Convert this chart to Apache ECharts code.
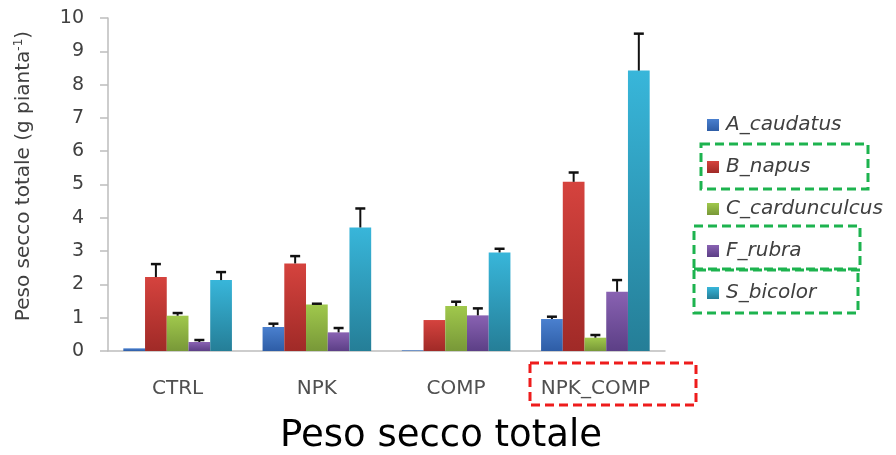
<!DOCTYPE html>
<html>
<head>
<meta charset="utf-8">
<script src="https://cdn.jsdelivr.net/npm/echarts@6/dist/echarts.min.js"></script>
<style>html,body{margin:0;padding:0;background:#fff;}#c{width:896px;height:455px;}</style>
</head>
<body>
<div id="c"></div>
<script>
var categories = ['CTRL', 'NPK', 'COMP', 'NPK_COMP'];
var speciesNames = ['A_caudatus', 'B_napus', 'C_cardunculcus', 'F_rubra', 'S_bicolor'];
var aCaudatus = [0.08, 0.72, 0.02, 0.96];
var bNapus = [2.22, 2.63, 0.93, 5.08];
var cCardunculus = [1.06, 1.40, 1.35, 0.40];
var fRubra = [0.27, 0.56, 1.07, 1.78];
var sBicolor = [2.13, 3.71, 2.96, 8.42];
var aErrTop = [null, 0.82, null, 1.03];
var bErrTop = [2.61, 2.85, null, 5.36];
var cErrTop = [1.14, 1.42, 1.48, 0.48];
var fErrTop = [0.33, 0.69, 1.28, 2.13];
var sErrTop = [2.37, 4.28, 3.07, 9.53];
var yTicks = [0, 1, 2, 3, 4, 5, 6, 7, 8, 9, 10];

var values = [aCaudatus, bNapus, cCardunculus, fRubra, sBicolor];
var errTops = [aErrTop, bErrTop, cErrTop, fErrTop, sErrTop];
var colorPairs = [
  ['#4a80cf', '#2e5da6'],
  ['#d5433e', '#a02a27'],
  ['#a0c84c', '#789838'],
  ['#8962b2', '#5c3f86'],
  ['#38b6da', '#257e97']
];

var chart = echarts.init(document.getElementById('c'));
var series = [];
values.forEach(function (vals, i) {
  series.push({
    name: speciesNames[i],
    type: 'bar',
    data: vals,
    barGap: '0%',
    barCategoryGap: '22%',
    itemStyle: {
      color: new echarts.graphic.LinearGradient(0, 0, 0, 1, [
        { offset: 0, color: colorPairs[i][0] },
        { offset: 1, color: colorPairs[i][1] }
      ])
    }
  });
});
values.forEach(function (vals, i) {
  var data = categories.map(function (c, j) { return [j, vals[j], errTops[i][j]]; });
  series.push({
    type: 'custom',
    z: 5,
    data: data,
    encode: { x: 0, y: [1, 2] },
    renderItem: function (params, api) {
      var top = api.value(2);
      if (top === null || top === undefined || isNaN(top)) return null;
      var layout = api.barLayout({ barGap: '0%', barCategoryGap: '22%', count: 5 });
      var c = api.value(0);
      var p0 = api.coord([c, api.value(1)]);
      var p1 = api.coord([c, top]);
      var x = p0[0] + layout[i].offsetCenter;
      var half = 5;
      return {
        type: 'group',
        children: [
          { type: 'line', shape: { x1: x, y1: p0[1], x2: x, y2: p1[1] }, style: { stroke: '#111', lineWidth: 2 } },
          { type: 'line', shape: { x1: x - half, y1: p1[1], x2: x + half, y2: p1[1] }, style: { stroke: '#111', lineWidth: 2.5 } }
        ]
      };
    }
  });
});

function dashedRect(x, y, w, h, color) {
  return {
    type: 'rect',
    shape: { x: x, y: y, width: w, height: h },
    style: { fill: 'none', stroke: color, lineWidth: 3, lineDash: [9, 5] },
    z: 100
  };
}

chart.setOption({
  backgroundColor: '#ffffff',
  animation: false,
  grid: { left: 108, right: 231, top: 18, bottom: 104 },
  legend: {
    orient: 'vertical',
    left: 707,
    top: 114,
    padding: 0,
    itemWidth: 12,
    itemHeight: 12,
    itemGap: 20,
    icon: 'rect',
    data: speciesNames,
    textStyle: { fontFamily: 'DejaVu Sans', fontStyle: 'italic', fontSize: 20, color: '#404040', lineHeight: 22, padding: [0, 0, 0, 2] }
  },
  xAxis: {
    type: 'category',
    data: categories,
    axisLine: { lineStyle: { color: '#bdbdbd', width: 1.5 } },
    axisTick: { length: 6, lineStyle: { color: '#bdbdbd', width: 1.5 } },
    axisLabel: { interval: 0, hideOverlap: false, fontFamily: 'DejaVu Sans', fontSize: 20, color: '#505050', margin: 28 }
  },
  yAxis: {
    type: 'value',
    min: 0,
    max: 10,
    interval: 1,
    splitLine: { show: false },
    axisLine: { show: true, lineStyle: { color: '#bdbdbd', width: 1.5 } },
    axisTick: { show: true, length: 8, lineStyle: { color: '#bdbdbd', width: 1.5 } },
    axisLabel: { fontFamily: 'DejaVu Sans', fontSize: 19, color: '#404040', margin: 24 }
  },
  title: {
    text: 'Peso secco totale',
    left: 436,
    textAlign: 'center',
    top: 413,
    textStyle: { fontFamily: 'DejaVu Sans', fontSize: 37, fontWeight: 'normal', color: '#000' }
  },
  graphic: [
    {
      type: 'text',
      x: 24,
      y: 176,
      rotation: Math.PI / 2,
      style: {
        text: '{a|Peso secco totale (g pianta}{s|-1}{a|)}',
        align: 'center',
        verticalAlign: 'middle',
        rich: {
          a: { fontFamily: 'DejaVu Sans', fontSize: 20, fill: '#404040' },
          s: { fontFamily: 'DejaVu Sans', fontSize: 12, fill: '#404040', verticalAlign: 'bottom', padding: [0, 0, 10, 0] }
        }
      }
    },
    dashedRect(701, 144, 167, 45, '#1db34f'),
    dashedRect(694, 226, 166, 44, '#1db34f'),
    dashedRect(694, 269, 164, 44, '#1db34f'),
    dashedRect(530, 363, 166, 42, '#ee1c1c')
  ],
  series: series
});
</script>
</body>
</html>
